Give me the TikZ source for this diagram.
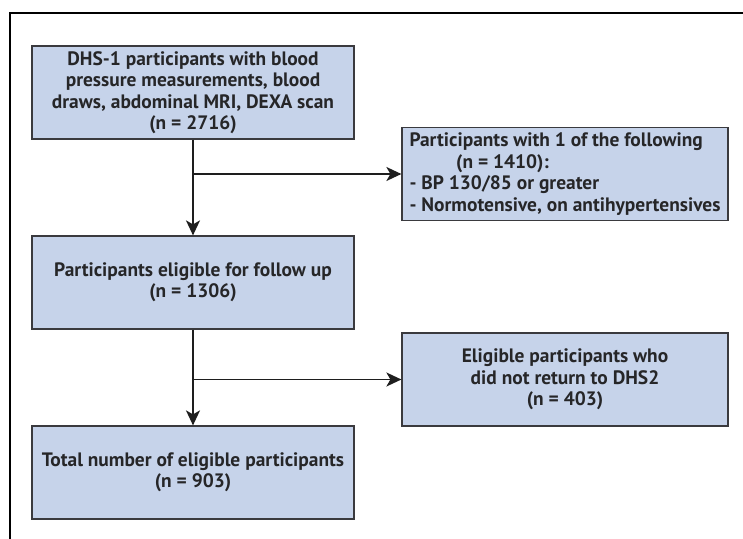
\documentclass[tikz,border=0pt]{standalone}
\usepackage{fontspec}
\setmainfont{PT Sans}
\usepackage{tikz}
\usetikzlibrary{arrows.meta,calc,positioning}
\definecolor{boxfill}{HTML}{C6D3EA}
\definecolor{boxline}{HTML}{3A3A3E}
\definecolor{arrowc}{HTML}{1E1E1E}
\definecolor{textc}{HTML}{262628}
\begin{document}
\begin{tikzpicture}[x=1bp,y=-1bp,
  box/.style={draw=boxline,fill=boxfill,line width=1.2bp,minimum width=322bp,minimum height=93bp,inner sep=0pt,align=center,text=textc,font=\fontsize{19.5}{21.5}\selectfont\bfseries},
  sidebox/.style={box,minimum width=326bp},
  flow/.style={-{Stealth[length=15bp,width=14bp,inset=4bp]},line width=1.8bp,draw=arrowc}]
\useasboundingbox (0,0) rectangle (743,539);
\draw[line width=2bp] (9.5,539) -- (9.5,13) -- (743,13);
\node[box] (B1) at (193,92.5) {DHS-1 participants with blood\\ pressure measurements, blood\\ draws, abdominal MRI, DEXA scan\\ (n = 2716)};
\node[sidebox,align=left] (B2) at (565,174) {Participants with 1 of the following\\ \hspace*{2.4em}(n = 1410):\\ - BP 130/85 or greater\\ - Normotensive, on antihypertensives};
\node[box] (B3) at (193,282.5) {Participants eligible for follow up\\ (n = 1306)};
\node[sidebox] (B4) at (565,379.5) {Eligible participants who\\ did not return to DHS2\\ (n = 403)};
\node[box] (B5) at (193,472.5) {Total number of eligible participants\\ (n = 903)};
\coordinate (J1) at (B1.south |- B2.west);
\coordinate (J2) at (B3.south |- B4.west);
\draw[flow] (B1) -- (B3);
\draw[flow] (B3) -- (B5);
\draw[flow] (J1) -- (B2);
\draw[flow] (J2) -- (B4);
\end{tikzpicture}
\end{document}
